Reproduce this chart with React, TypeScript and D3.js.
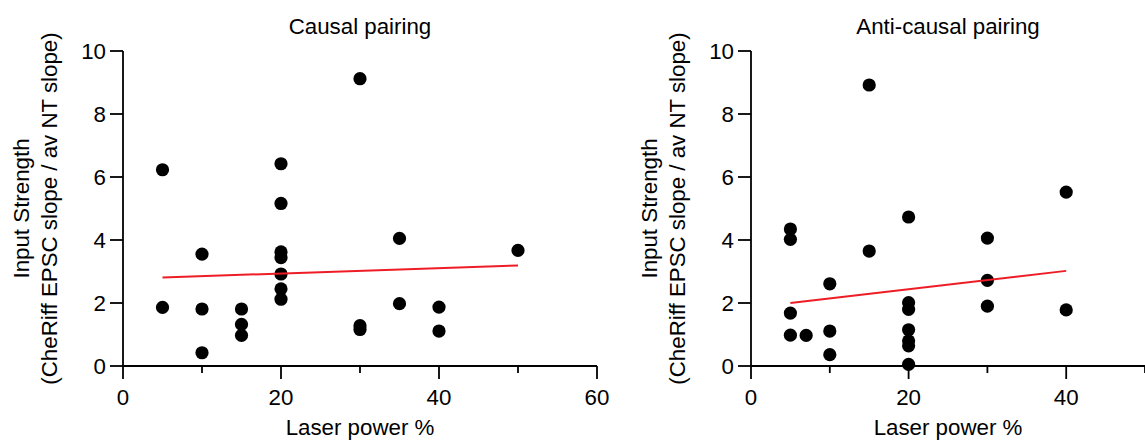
import React from "react";
import * as d3 from "d3";

// Causal pairing: laser power (%) vs input strength
const causalX = [5, 5, 10, 10, 10, 15, 15, 15, 20, 20, 20, 20, 20, 20, 20, 30, 30, 30, 35, 35, 40, 40, 50];
const causalY = [6.23, 1.86, 3.55, 1.81, 0.42, 1.81, 1.32, 0.97, 6.42, 5.16, 3.62, 3.44, 2.92, 2.45, 2.12, 9.12, 1.28, 1.16, 4.05, 1.98, 1.87, 1.11, 3.67];
const causalFitX = [5, 50];
const causalFitY = [2.81, 3.19];

// Anti-causal pairing
const antiX = [5, 5, 5, 5, 7, 10, 10, 10, 15, 15, 20, 20, 20, 20, 20, 20, 20, 30, 30, 30, 40, 40];
const antiY = [4.35, 4.02, 1.68, 0.98, 0.97, 2.61, 1.11, 0.36, 8.92, 3.65, 4.73, 2.01, 1.8, 1.15, 0.8, 0.64, 0.05, 4.06, 2.72, 1.9, 5.52, 1.78];
const antiFitX = [5, 40];
const antiFitY = [2.0, 3.02];

const yTicks = [0, 2, 4, 6, 8, 10];
const xTicksCausal = [0, 10, 20, 30, 40, 50, 60];
const xTicksAnti = [0, 10, 20, 30, 40, 50];
const xLabelEvery = 20;

const FONT = "'Liberation Sans', Arial, Helvetica, sans-serif";
const FS = 22.3;

type PanelProps = {
  title: string;
  xs: number[];
  ys: number[];
  fitX: number[];
  fitY: number[];
  xDomain: [number, number];
  xRange: [number, number];
  xTicks: number[];
};

function Panel({ title, xs, ys, fitX, fitY, xDomain, xRange, xTicks }: PanelProps) {
  const x = d3.scaleLinear().domain(xDomain).range(xRange);
  const y = d3.scaleLinear().domain([0, 10]).range([366, 51]);
  const x0 = xRange[0];
  const y0 = y(0);
  const cx = (xRange[0] + xRange[1]) / 2;
  const yMid = (y(0) + y(10)) / 2;
  const line = d3
    .line<number>()
    .x((_, i) => x(fitX[i]))
    .y((d) => y(d));

  return (
    <g>
      <text x={cx} y={34} textAnchor="middle" fontSize={FS}>
        {title}
      </text>
      {/* axes */}
      <line x1={x0} x2={x0} y1={y(10)} y2={y0} stroke="#000" strokeWidth={1.8} />
      <line x1={x0} x2={xRange[1]} y1={y0} y2={y0} stroke="#000" strokeWidth={1.8} />
      {yTicks.map((t) => (
        <g key={"y" + t}>
          <line x1={x0 - 13} x2={x0} y1={y(t)} y2={y(t)} stroke="#000" strokeWidth={1.8} />
          <text x={x0 - 17} y={y(t)} dy="0.36em" textAnchor="end" fontSize={FS}>
            {t}
          </text>
        </g>
      ))}
      {xTicks.map((t) => {
        const major = t % xLabelEvery === 0;
        return (
          <g key={"x" + t}>
            <line x1={x(t)} x2={x(t)} y1={y0} y2={y0 + (major ? 13 : 7)} stroke="#000" strokeWidth={1.8} />
            {major && (
              <text x={x(t)} y={405} textAnchor="middle" fontSize={FS}>
                {t}
              </text>
            )}
          </g>
        );
      })}
      <text x={cx} y={435} textAnchor="middle" fontSize={FS}>
        Laser power %
      </text>
      <text transform={`translate(${x0 - 94},${yMid}) rotate(-90)`} textAnchor="middle" fontSize={FS}>
        Input Strength
      </text>
      <text transform={`translate(${x0 - 66},${yMid}) rotate(-90)`} textAnchor="middle" fontSize={FS}>
        (CheRiff EPSC slope / av NT slope)
      </text>
      {/* points */}
      {xs.map((v, i) => (
        <circle key={"p" + i} cx={x(v)} cy={y(ys[i])} r={6.6} fill="#000" />
      ))}
      {/* fit line */}
      <path d={line(fitY) || ""} fill="none" stroke="#ee1c25" strokeWidth={2} />
    </g>
  );
}

export default function App() {
  return (
    <svg
      width={1145}
      height={440}
      style={{ position: "absolute", left: 0, top: 0, background: "#fff" }}
      fontFamily={FONT}
    >
      <rect width={1145} height={440} fill="#fff" />
      <Panel
        title="Causal pairing"
        xs={causalX}
        ys={causalY}
        fitX={causalFitX}
        fitY={causalFitY}
        xDomain={[0, 60]}
        xRange={[123, 597]}
        xTicks={xTicksCausal}
      />
      <Panel
        title="Anti-causal pairing"
        xs={antiX}
        ys={antiY}
        fitX={antiFitX}
        fitY={antiFitY}
        xDomain={[0, 50]}
        xRange={[751, 1145]}
        xTicks={xTicksAnti}
      />
    </svg>
  );
}
